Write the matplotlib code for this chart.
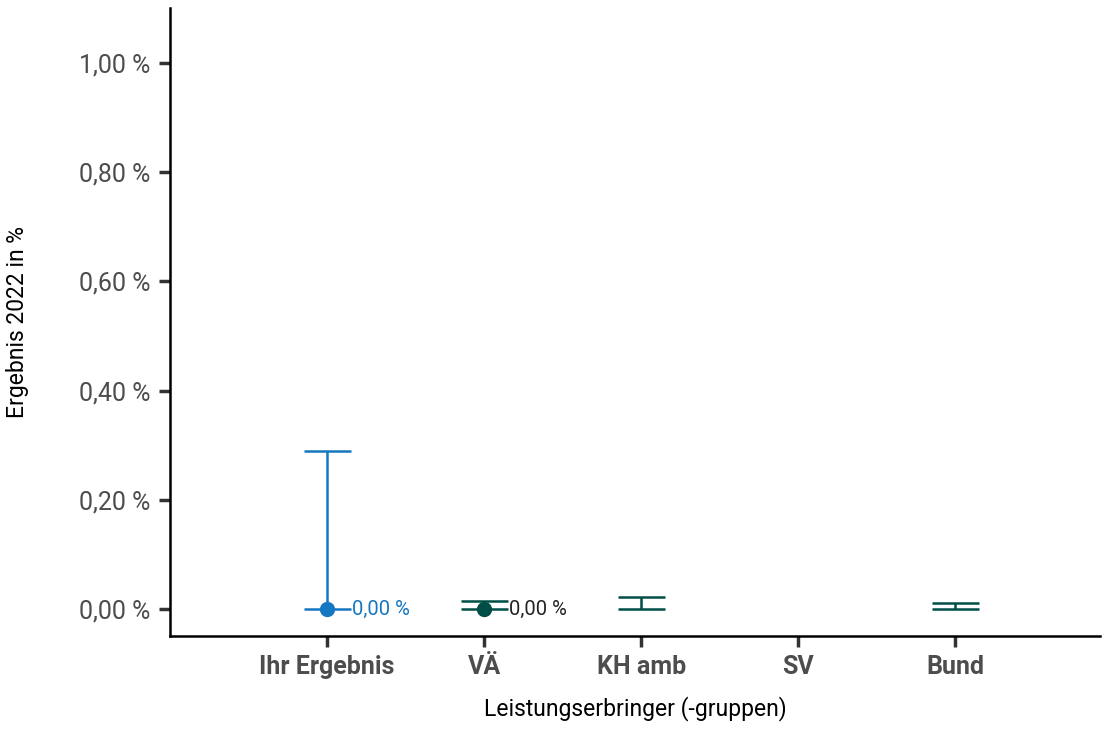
import matplotlib; matplotlib.use('Agg')
import matplotlib.pyplot as plt

plt.rcParams['font.family'] = ['Roboto', 'DejaVu Sans']

cats = ['Ihr Ergebnis', 'VÄ', 'KH amb', 'SV', 'Bund']
values = [0.0, 0.0, None, None, None]
lower = [0.0, 0.0, 0.0, None, 0.0]
upper = [0.29, 0.015, 0.023, None, 0.012]
colors = ['#1577c1', '#004d45', '#004d45', '#004d45', '#004d45']

fig = plt.figure(figsize=(11.07, 7.37), dpi=100)
ax = fig.add_axes([170/1107, 1-636/737, (1100-170)/1107, (636-8)/737])

for i, c in enumerate(cats):
    x = i + 1
    if lower[i] is not None:
        ax.vlines(x, lower[i], upper[i], color=colors[i], lw=1.8)
        for y in (lower[i], upper[i]):
            ax.hlines(y, x - 0.15, x + 0.15, color=colors[i], lw=1.8)
    if values[i] is not None:
        ax.plot(x, values[i], 'o', color=colors[i], ms=10, zorder=3)
        ax.text(x + 0.16, values[i], '0,00 %', color=colors[i] if i == 0 else '#222222',
                fontsize=14.5, va='center', ha='left')

ax.set_xlim(0, 5.92)
ax.set_ylim(-0.049, 1.1)
ax.set_xticks(range(1, 6))
ax.set_xticklabels(cats, fontsize=18, fontweight='bold', color='#4d4d4d')
ax.set_yticks([0, 0.2, 0.4, 0.6, 0.8, 1.0])
ax.set_yticklabels(['0,00 %', '0,20 %', '0,40 %', '0,60 %', '0,80 %', '1,00 %'],
                   fontsize=18, color='#4d4d4d')
ax.tick_params(axis='both', length=8, width=2.5, color='#333333', pad=6)
ax.spines['top'].set_visible(False)
ax.spines['right'].set_visible(False)
ax.spines['left'].set_linewidth(1.8)
ax.spines['bottom'].set_linewidth(1.8)
ax.set_xlabel('Leistungserbringer (-gruppen)', fontsize=16.5, labelpad=12)
ax.set_ylabel('Ergebnis 2022 in %', fontsize=16.5, labelpad=36)

fig.savefig('out.png', dpi=100)
